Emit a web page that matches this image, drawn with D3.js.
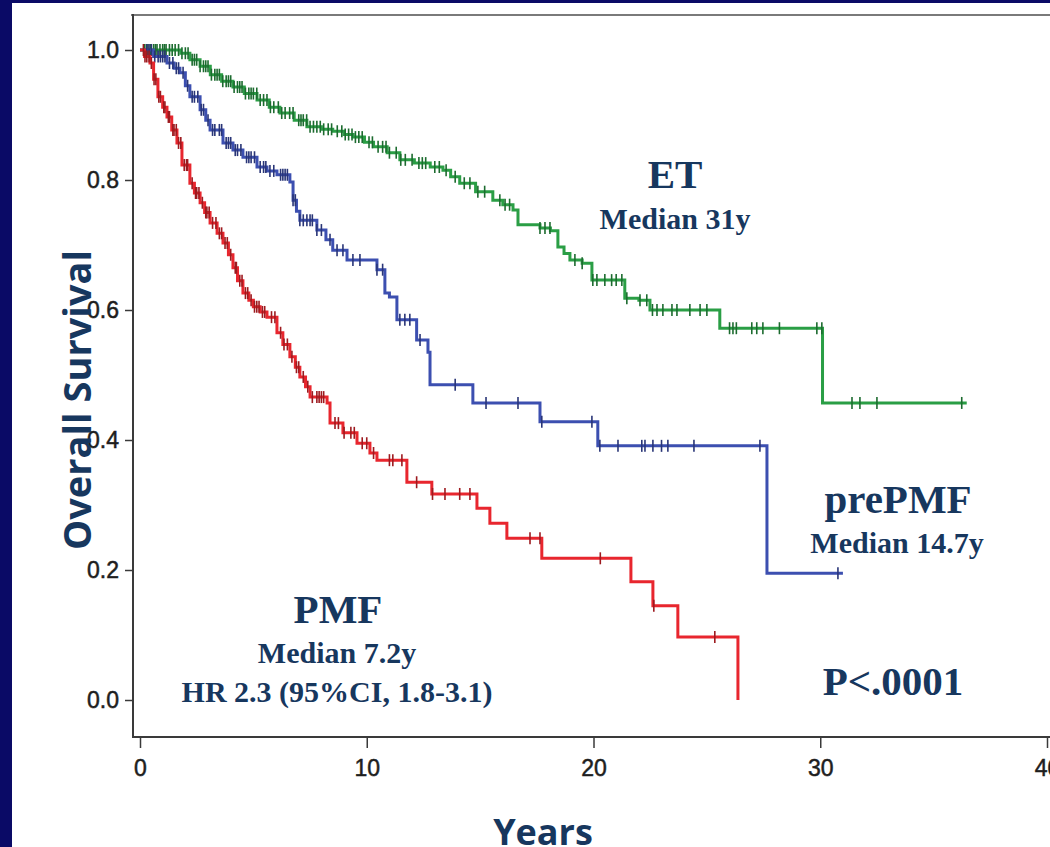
<!DOCTYPE html>
<html>
<head>
<meta charset="utf-8">
<script src="https://cdnjs.cloudflare.com/ajax/libs/d3/7.8.5/d3.min.js"></script>
<style>
html, body { margin: 0; padding: 0; background: #0a0a66; }
svg { display: block; }
</style>
</head>
<body>
<svg id="chart" width="1050" height="847"></svg>
<script>
// step nodes: time (years) -> survival from that time on
var etTime = [0, 1.8, 2.2, 2.65, 3.1, 3.6, 4.1, 4.6, 5.16, 5.7, 6.17, 6.8, 7.36, 8.0, 8.5, 9.0, 9.4, 9.9, 10.3, 10.9, 11.46, 12.1, 12.8, 13.36, 13.7, 14.1, 14.8, 15.56, 16.0, 16.45, 16.67, 17.64, 18.1, 18.43, 18.7, 18.96, 19.5, 19.93, 21.38, 22.0, 22.49, 25.57, 30.1, 36.46];
var etSurv = [1.0, 0.995, 0.985, 0.975, 0.962, 0.952, 0.943, 0.933, 0.923, 0.912, 0.903, 0.892, 0.882, 0.878, 0.875, 0.870, 0.866, 0.858, 0.851, 0.842, 0.831, 0.826, 0.820, 0.815, 0.805, 0.795, 0.782, 0.769, 0.762, 0.754, 0.731, 0.726, 0.722, 0.697, 0.687, 0.677, 0.672, 0.646, 0.618, 0.615, 0.600, 0.572, 0.457, 0.457];
var etCensor = [0.2, 0.28, 0.35, 0.47, 0.6, 0.68, 0.75, 0.88, 1.0, 1.08, 1.15, 1.3, 1.42, 1.55, 1.7, 1.85, 2.0, 2.12, 2.3, 2.4, 2.5, 2.65, 2.8, 2.9, 3.0, 3.15, 3.3, 3.4, 3.5, 3.65, 3.8, 3.9, 4.0, 4.15, 4.3, 4.4, 4.5, 4.65, 4.8, 4.9, 5.0, 5.15, 5.3, 5.45, 5.6, 5.75, 5.9, 6.1, 6.25, 6.4, 6.6, 6.75, 7.0, 7.1, 7.2, 7.35, 7.5, 7.65, 7.8, 7.95, 8.1, 8.3, 8.45, 8.7, 8.9, 9.05, 9.2, 9.35, 9.5, 9.65, 9.8, 10.1, 10.25, 10.5, 10.7, 10.85, 11.0, 11.3, 11.5, 11.7, 12.0, 12.3, 12.45, 12.6, 13.0, 13.2, 13.5, 13.9, 14.3, 14.55, 14.9, 15.2, 15.87, 16.1, 16.3, 17.64, 17.86, 18.08, 19.18, 19.5, 19.97, 20.15, 20.5, 20.8, 21.0, 21.25, 21.47, 22.05, 22.35, 22.6, 22.8, 23.06, 23.46, 23.68, 24.25, 24.7, 25.0, 26.0, 26.15, 26.3, 26.98, 27.2, 27.47, 28.2, 29.85, 30.07, 31.4, 31.75, 32.5, 36.24];

var preTime = [0, 0.6, 1.19, 1.5, 1.76, 2.0, 2.2, 2.65, 2.9, 3.09, 3.66, 4.1, 4.54, 5.16, 5.6, 6.04, 6.61, 6.75, 6.9, 7.05, 7.8, 8.2, 8.5, 9.13, 10.45, 10.8, 11.0, 11.33, 12.2, 12.7, 12.79, 14.68, 17.64, 20.19, 27.65, 31.0];
var preSurv = [1.0, 0.99, 0.98, 0.972, 0.965, 0.945, 0.928, 0.908, 0.892, 0.877, 0.857, 0.846, 0.835, 0.820, 0.814, 0.808, 0.797, 0.769, 0.752, 0.738, 0.723, 0.708, 0.692, 0.677, 0.662, 0.626, 0.620, 0.585, 0.554, 0.535, 0.485, 0.457, 0.428, 0.391, 0.195, 0.195];
var preCensor = [0.3, 0.4, 0.5, 0.65, 0.8, 0.9, 1.0, 1.1, 1.3, 1.45, 1.6, 1.7, 1.9, 2.1, 2.3, 2.4, 2.55, 2.7, 2.8, 3.0, 3.2, 3.3, 3.5, 3.6, 3.8, 3.9, 4.0, 4.2, 4.3, 4.45, 4.7, 4.8, 4.9, 5.05, 5.3, 5.45, 5.55, 5.73, 5.9, 6.2, 6.3, 6.4, 6.5, 6.75, 6.85, 7.05, 7.2, 7.36, 7.5, 7.6, 7.8, 8.0, 8.38, 8.69, 8.95, 9.39, 9.7, 10.45, 10.7, 11.46, 11.68, 11.9, 12.35, 13.9, 15.26, 16.67, 17.72, 19.93, 20.28, 21.08, 22.13, 22.27, 22.62, 23.0, 23.28, 24.43, 27.34, 30.78];

var pmfTime = [0, 0.2, 0.44, 0.6, 0.79, 1.0, 1.19, 1.4, 1.63, 1.85, 2.2, 2.4, 2.65, 2.85, 3.09, 3.4, 3.66, 3.9, 4.1, 4.3, 4.54, 4.8, 5.0, 5.3, 5.6, 6.04, 6.3, 6.61, 6.85, 7.05, 7.3, 7.5, 8.25, 8.38, 8.95, 9.57, 10.14, 10.45, 11.77, 12.87, 14.86, 15.43, 16.18, 17.72, 21.65, 22.62, 23.72, 26.37];
var pmfSurv = [1.0, 0.99, 0.98, 0.955, 0.928, 0.912, 0.897, 0.877, 0.857, 0.823, 0.795, 0.780, 0.765, 0.750, 0.734, 0.718, 0.703, 0.685, 0.665, 0.645, 0.626, 0.615, 0.605, 0.597, 0.589, 0.565, 0.547, 0.528, 0.512, 0.497, 0.482, 0.466, 0.457, 0.426, 0.411, 0.395, 0.380, 0.369, 0.335, 0.317, 0.295, 0.272, 0.249, 0.218, 0.182, 0.145, 0.097, 0.0];
var pmfCensor = [0.15, 0.22, 0.3, 0.4, 0.5, 0.62, 0.7, 0.83, 0.9, 1.05, 1.1, 1.25, 1.3, 1.45, 1.5, 1.6, 1.7, 1.8, 1.95, 2.05, 2.1, 2.3, 2.45, 2.5, 2.6, 2.75, 2.9, 2.95, 3.05, 3.2, 3.35, 3.5, 3.6, 3.75, 3.85, 4.0, 4.2, 4.25, 4.4, 4.5, 4.65, 4.75, 4.9, 5.05, 5.15, 5.25, 5.4, 5.5, 5.8, 5.95, 6.2, 6.35, 6.5, 6.7, 6.9, 7.0, 7.2, 7.4, 7.6, 7.8, 7.9, 8.0, 8.1, 8.6, 8.75, 9.0, 9.3, 9.45, 9.8, 10.0, 10.3, 11.0, 11.15, 11.55, 12.2, 12.9, 13.45, 14.1, 14.55, 17.2, 17.64, 20.3, 22.66, 25.35];

var yTicks = [0, 0.2, 0.4, 0.6, 0.8, 1.0];
var xTicks = [0, 10, 20, 30, 40];

var series = [
    {time: etTime, surv: etSurv, censor: etCensor, color: "#2a9e45"},
    {time: preTime, surv: preSurv, censor: preCensor, color: "#3c4fb0"},
    {time: pmfTime, surv: pmfSurv, censor: pmfCensor, color: "#e8262e"}
];

var svg = d3.select("#chart");

// white panel on navy
svg.append("rect")
    .attr("x", 12).attr("y", 3)
    .attr("width", 1038).attr("height", 844)
    .attr("fill", "#ffffff");

var x = d3.scaleLinear().domain([0, 40]).range([140, 1047]);
var y = d3.scaleLinear().domain([0, 1]).range([700, 50]);

// frame
svg.append("line")
    .attr("x1", 131).attr("x2", 1050).attr("y1", 15).attr("y2", 15)
    .attr("stroke", "#7a7a7a").attr("stroke-width", 2);
svg.append("line")
    .attr("x1", 133).attr("x2", 133).attr("y1", 14).attr("y2", 738)
    .attr("stroke", "#3a3a3a").attr("stroke-width", 2);
svg.append("line")
    .attr("x1", 132).attr("x2", 1050).attr("y1", 737).attr("y2", 737)
    .attr("stroke", "#3a3a3a").attr("stroke-width", 2);

var yAxis = svg.append("g")
    .attr("transform", "translate(133,0)")
    .call(d3.axisLeft(y).tickValues(yTicks).tickFormat(d3.format(".1f")).tickSize(8).tickSizeOuter(0).tickPadding(6));
yAxis.select(".domain").remove();

var xAxis = svg.append("g")
    .attr("transform", "translate(0,737)")
    .call(d3.axisBottom(x).tickValues(xTicks).tickFormat(d3.format("d")).tickSize(11).tickSizeOuter(0).tickPadding(12));
xAxis.select(".domain").remove();

svg.selectAll(".tick line").attr("stroke", "#3a3a3a").attr("stroke-width", 1.5);
svg.selectAll(".tick text")
    .style("font-family", "'Liberation Sans', Arial, sans-serif")
    .style("font-size", "23px")
    .attr("fill", "#1e1e1e")
    .attr("stroke", "#1e1e1e")
    .attr("stroke-width", 0.5);

// survival curves
var line = d3.line()
    .x(function(d) { return x(d[0]); })
    .y(function(d) { return y(d[1]); })
    .curve(d3.curveStepAfter);

function stepValue(s, t) {
    var v = s.surv[0];
    for (var i = 0; i < s.time.length; i++) {
        if (s.time[i] <= t) v = s.surv[i];
    }
    return v;
}

series.forEach(function(s) {
    var pts = s.time.map(function(t, i) { return [t, s.surv[i]]; });
    svg.append("path")
        .datum(pts)
        .attr("d", line)
        .attr("fill", "none")
        .attr("stroke", s.color)
        .attr("stroke-width", 3);

    var dark = d3.color(s.color).darker(1.1);
    svg.append("g").selectAll("line")
        .data(s.censor)
        .enter()
        .append("line")
        .attr("x1", function(t) { return x(t); })
        .attr("x2", function(t) { return x(t); })
        .attr("y1", function(t) { return y(stepValue(s, t)) - 6; })
        .attr("y2", function(t) { return y(stepValue(s, t)) + 6; })
        .attr("stroke", dark)
        .attr("stroke-width", 1.6);
});

// annotations
var notes = [
    {text: "ET", x: 675, y: 188, size: 41},
    {text: "Median 31y", x: 675, y: 229, size: 30},
    {text: "prePMF", x: 898, y: 513, size: 41},
    {text: "Median 14.7y", x: 897, y: 553, size: 30},
    {text: "PMF", x: 338, y: 623, size: 41},
    {text: "Median 7.2y", x: 337, y: 663, size: 30},
    {text: "HR 2.3 (95%CI, 1.8-3.1)", x: 337, y: 702, size: 30},
    {text: "P<.0001", x: 893, y: 695, size: 41}
];
svg.append("g").selectAll("text")
    .data(notes)
    .enter()
    .append("text")
    .attr("x", function(d) { return d.x; })
    .attr("y", function(d) { return d.y; })
    .attr("text-anchor", "middle")
    .style("font-family", "'Liberation Serif', 'Times New Roman', serif")
    .style("font-weight", "bold")
    .style("font-size", function(d) { return d.size + "px"; })
    .attr("fill", "#17375e")
    .text(function(d) { return d.text; });

// axis titles
svg.append("text")
    .attr("x", 543).attr("y", 845)
    .attr("text-anchor", "middle")
    .style("font-family", "'Open Sans', sans-serif")
    .style("font-weight", "bold")
    .style("font-size", "36px")
    .attr("fill", "#17375e")
    .text("Years");

svg.append("text")
    .attr("transform", "translate(91,400) rotate(-90)")
    .attr("text-anchor", "middle")
    .style("font-family", "'Open Sans', sans-serif")
    .style("font-weight", "bold")
    .style("font-size", "38px")
    .attr("fill", "#17375e")
    .text("Overall Survival");
</script>
</body>
</html>
